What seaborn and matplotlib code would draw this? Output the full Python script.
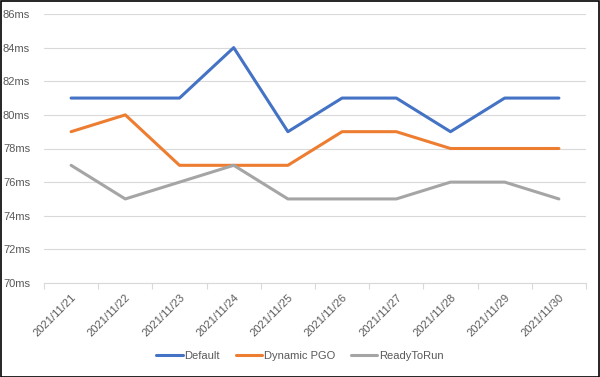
import matplotlib
matplotlib.use("Agg")
import matplotlib.pyplot as plt
import seaborn as sns
import pandas as pd
import numpy as np
from matplotlib.ticker import FixedLocator, FuncFormatter

dates = ["2021/11/21", "2021/11/22", "2021/11/23", "2021/11/24", "2021/11/25",
         "2021/11/26", "2021/11/27", "2021/11/28", "2021/11/29", "2021/11/30"]
default = [81, 81, 81, 84, 79, 81, 81, 79, 81, 81]
dynamic_pgo = [79, 80, 77, 77, 77, 79, 79, 78, 78, 78]
ready_to_run = [77, 75, 76, 77, 75, 75, 75, 76, 76, 75]
series_names = ["Default", "Dynamic PGO", "ReadyToRun"]
y_ticks = [70, 72, 74, 76, 78, 80, 82, 84, 86]

rows = []
for name, vals in zip(series_names, [default, dynamic_pgo, ready_to_run]):
    for i, (d, v) in enumerate(zip(dates, vals)):
        rows.append({"idx": i, "date": d, "value": v, "series": name})
df = pd.DataFrame(rows)

sns.set_theme(style="white")
plt.rcParams['font.family'] = ['Liberation Sans', 'DejaVu Sans']

fig = plt.figure(figsize=(6.0, 3.77), dpi=100)
ax = fig.add_axes([44/600, 1-283/377, 542/600, (283-14)/377])

palette = {"Default": "#4472C4", "Dynamic PGO": "#ED7D31", "ReadyToRun": "#A5A5A5"}
sns.lineplot(data=df, x="idx", y="value", hue="series", palette=palette,
             linewidth=2.2, ax=ax, legend=True, sort=False)

ax.set_xlim(-0.5, len(dates) - 0.5)
ax.set_ylim(min(y_ticks), max(y_ticks))
ax.set_yticks(y_ticks)
ax.yaxis.set_major_formatter(FuncFormatter(lambda v, p: f"{int(v)}ms"))
ax.set_xticks(range(len(dates)))
ax.set_xticklabels(dates, rotation=45, ha="right", rotation_mode="anchor")
ax.xaxis.set_minor_locator(FixedLocator(np.arange(-0.5, len(dates), 1.0)))
ax.tick_params(axis="x", which="major", length=0, labelsize=8, colors="#595959", pad=7)
ax.tick_params(axis="x", which="minor", length=4, color="#D9D9D9", width=0.8, bottom=True)
ax.tick_params(axis="y", length=0, labelsize=8, colors="#595959", pad=10)
ax.grid(axis="y", color="#D9D9D9", linewidth=0.8)
ax.set_axisbelow(True)
for s in ["top", "right", "left"]:
    ax.spines[s].set_visible(False)
ax.spines["bottom"].set_color("#D9D9D9")
ax.spines["bottom"].set_linewidth(0.8)
ax.set_xlabel("")
ax.set_ylabel("")

handles, labels = ax.get_legend_handles_labels()
ax.legend(handles, labels, loc="center", bbox_to_anchor=(0.5, (377-356)/377),
          bbox_transform=fig.transFigure, ncol=3, frameon=False, fontsize=8,
          labelcolor="#595959", handlelength=2.4, handletextpad=0.15, columnspacing=1.4)

fig.patches.append(plt.Rectangle((0.001, 0.001), 0.998, 0.997, transform=fig.transFigure,
                                 fill=False, edgecolor="black", linewidth=1.2))
fig.savefig("out.png", dpi=100, facecolor="white")
